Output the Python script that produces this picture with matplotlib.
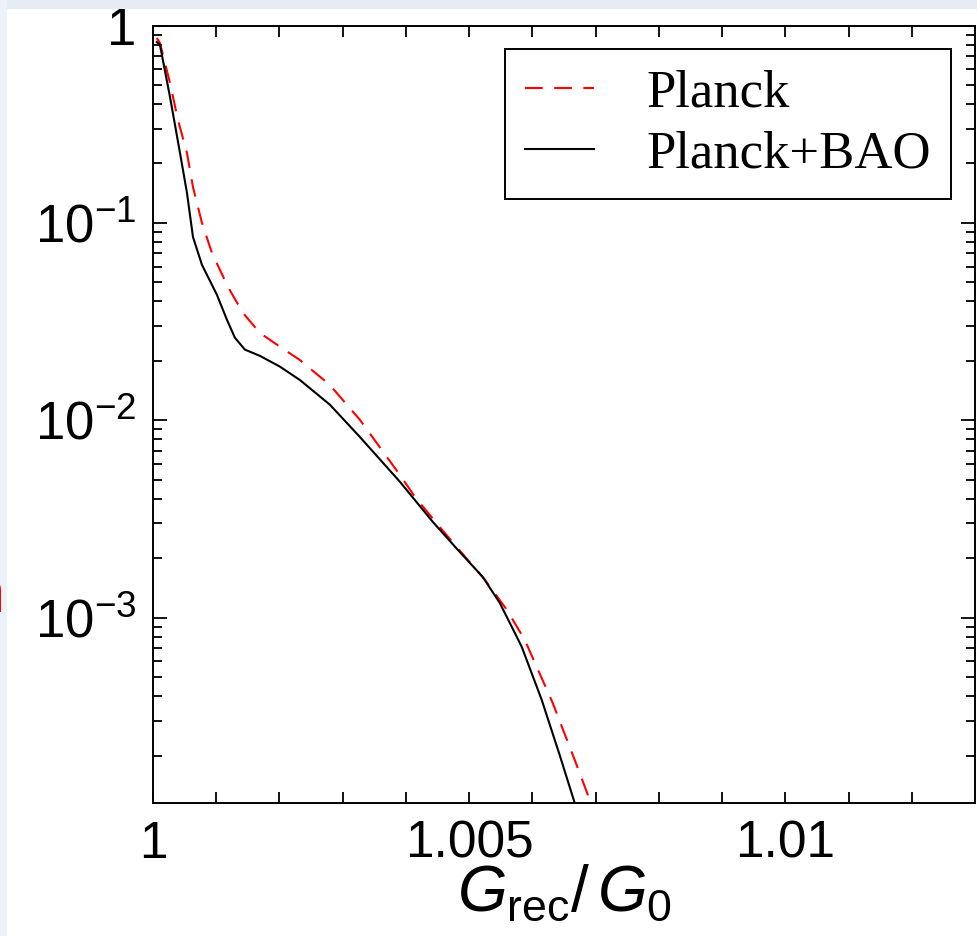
import matplotlib
matplotlib.use('Agg')
import numpy as np
import matplotlib.pyplot as plt
from matplotlib.patches import Rectangle
from matplotlib.ticker import LogLocator, NullFormatter, FixedLocator, FuncFormatter

# Planck only (red dashed)
planck_x = [1.00006, 1.00011, 1.000269, 1.000395, 1.000537, 1.000632, 1.000774, 1.000932,
            1.001185, 1.001422, 1.00169, 1.002006, 1.002322, 1.002796, 1.00327, 1.003902,
            1.00414, 1.004502, 1.004882, 1.005245, 1.005592, 1.005877, 1.006319, 1.006667,
            1.006904, 1.006935]
planck_y = [0.864, 0.815, 0.511, 0.332, 0.226, 0.152, 0.100, 0.0705,
            0.0474, 0.035, 0.0277, 0.0236, 0.0202, 0.0151, 0.01007, 0.0053,
            0.0041, 0.00296, 0.00213, 0.00156, 0.0011, 0.000774, 0.000371, 0.000191,
            0.000120, 0.000105]

# Planck+BAO (black solid)
bao_x = [1.00006, 1.00011, 1.000269, 1.000427, 1.000537, 1.000632, 1.000774, 1.001011,
         1.001169, 1.001295, 1.001453, 1.00169, 1.002006, 1.002322, 1.002796, 1.00327,
         1.003902, 1.004423, 1.004818, 1.005213, 1.005482, 1.00564, 1.00583, 1.006145,
         1.00643, 1.006667, 1.006714]
bao_y = [0.825, 0.797, 0.434, 0.226, 0.142, 0.0849, 0.0613, 0.0432,
         0.0323, 0.0262, 0.0228, 0.0212, 0.0187, 0.0160, 0.0120, 0.00824,
         0.00489, 0.00306, 0.00221, 0.00161, 0.00119, 0.000944, 0.000713, 0.000385,
         0.000202, 0.0001157, 0.000102]

x_ticks = [1.000, 1.001, 1.002, 1.003, 1.004, 1.005, 1.006, 1.007, 1.008, 1.009, 1.010, 1.011, 1.012]
x_ticklabels = ['1', '', '', '', '', '1.005', '', '', '', '', '1.01', '', '']


def ylab(v, pos):
    e = int(round(np.log10(v)))
    if e == 0:
        return '1'
    return r'$10^{%d}$' % e


plt.rcParams['font.family'] = ['Liberation Sans', 'DejaVu Sans']
plt.rcParams['mathtext.fontset'] = 'custom'
plt.rcParams['mathtext.rm'] = 'Liberation Sans'
plt.rcParams['mathtext.it'] = 'Liberation Sans:italic'
plt.rcParams['mathtext.bf'] = 'Liberation Sans:bold'

fig = plt.figure(figsize=(9.78, 9.36), dpi=100)
fig.patch.set_facecolor('white')

# slide remnants around the picture
fig.patches.append(Rectangle((0, 1 - 9 / 936), 1, 9 / 936, transform=fig.transFigure,
                             facecolor='#e6ecf6', edgecolor='none', zorder=0))
fig.patches.append(Rectangle((0, 0), 7 / 978, 1, transform=fig.transFigure,
                             facecolor='#edf1f9', edgecolor='none', zorder=0))
fig.text(5 / 978, 1 - 612 / 936, 'n', color='red', fontsize=44, ha='right', va='baseline')

ax = fig.add_axes([153 / 978, 1 - 803 / 936, 822 / 978, 777.5 / 936])

ax.plot(planck_x, planck_y, color='red', lw=1.5, dashes=(8.5, 5.5), label='Planck')
ax.plot(bao_x, bao_y, color='black', lw=1.5, label='Planck+BAO')

ax.set_yscale('log')
ax.set_xlim(1.0, 1.013)
ax.set_ylim(1.15e-4, 1.0)

ax.xaxis.set_major_locator(FixedLocator(x_ticks))
ax.set_xticklabels(x_ticklabels)
ax.yaxis.set_major_locator(LogLocator(base=10, numticks=10))
ax.yaxis.set_major_formatter(FuncFormatter(ylab))
ax.yaxis.set_minor_locator(LogLocator(base=10, subs=[0.2, 0.3, 0.4, 0.5, 0.6, 0.7, 0.8, 0.9], numticks=20))
ax.yaxis.set_minor_formatter(NullFormatter())

ax.tick_params(axis='both', which='both', direction='in', top=True, right=True, width=1.3)
ax.tick_params(axis='x', which='major', length=7.7, labelsize=37, pad=12)
ax.tick_params(axis='y', which='major', length=9.8, labelsize=38, pad=12)
ax.tick_params(axis='y', which='minor', length=6.5)
for s in ax.spines.values():
    s.set_linewidth(1.4)

ax.set_xlabel(r'$G_{\rm rec}/\,G_0$', fontsize=46, labelpad=-4)

leg = ax.legend(loc='upper right', prop={'family': 'Liberation Serif', 'size': 38},
                fancybox=False, frameon=True, edgecolor='black', framealpha=1,
                borderaxespad=0.45, handlelength=1.3, handletextpad=1.0,
                borderpad=0.38, labelspacing=0.25)
leg.get_frame().set_linewidth(1.4)

fig.savefig('out.png', dpi=100)
